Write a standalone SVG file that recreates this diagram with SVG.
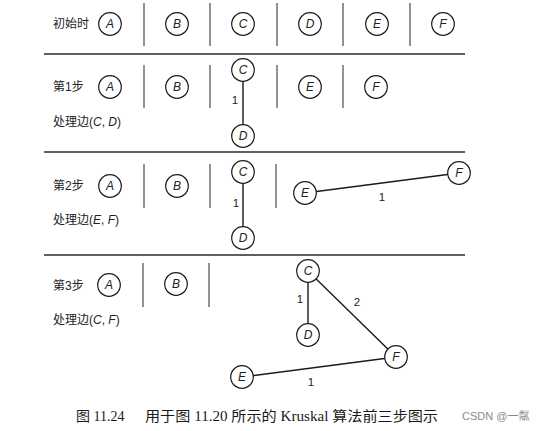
<svg xmlns="http://www.w3.org/2000/svg" width="544" height="431" viewBox="0 0 544 431">
<style>
.bg{fill:#fff}
.sep{stroke:#3a3a3a;stroke-width:1.1}
.hr{stroke:#2a2a2a;stroke-width:1.4}
.edge{stroke:#1a1a1a;stroke-width:1.4;fill:none}
.node circle{fill:#fff;stroke:#1a1a1a;stroke-width:1.2}
.node text{font-family:"Liberation Sans",Arial,sans-serif;font-style:italic;font-size:12px;fill:#222;text-anchor:middle}
.lbl{font-family:"Liberation Sans","Noto Sans CJK SC",sans-serif;font-size:12px;fill:#222}
.w{font-family:"Liberation Sans",Arial,sans-serif;font-size:11.5px;fill:#222;text-anchor:middle}
.cap{font-family:"Liberation Serif","Noto Sans CJK SC",serif;font-size:14px;fill:#1a1a1a}
.mark{font-family:"Liberation Sans","Noto Sans CJK SC",sans-serif;font-size:11px;fill:#8a8a8a}
</style>
<rect class="bg" width="544" height="431"/>
<g id="rules">
<line class="hr" x1="44" y1="54" x2="465" y2="54"/>
<line class="hr" x1="44" y1="152" x2="465" y2="152"/>
<line class="hr" x1="44" y1="255" x2="465" y2="255"/>
<line class="sep" x1="144" y1="3" x2="144" y2="46"/>
<line class="sep" x1="210" y1="3" x2="210" y2="46"/>
<line class="sep" x1="277" y1="3" x2="277" y2="46"/>
<line class="sep" x1="343" y1="3" x2="343" y2="46"/>
<line class="sep" x1="410" y1="3" x2="410" y2="46"/>
<line class="sep" x1="144" y1="65" x2="144" y2="108"/>
<line class="sep" x1="210" y1="65" x2="210" y2="108"/>
<line class="sep" x1="277" y1="65" x2="277" y2="108"/>
<line class="sep" x1="343" y1="65" x2="343" y2="108"/>
<line class="sep" x1="144" y1="164" x2="144" y2="208"/>
<line class="sep" x1="210" y1="164" x2="210" y2="208"/>
<line class="sep" x1="276" y1="164" x2="276" y2="208"/>
<line class="sep" x1="143" y1="263" x2="143" y2="307"/>
<line class="sep" x1="209" y1="263" x2="209" y2="307"/>
</g>
<g id="labels">
<text class="lbl" x="53" y="28">初始时</text>
<text class="lbl" x="53" y="91">第1步</text>
<text class="lbl" x="53" y="126">处理边(<tspan font-style="italic">C</tspan>, <tspan font-style="italic">D</tspan>)</text>
<text class="lbl" x="53" y="190">第2步</text>
<text class="lbl" x="53" y="224">处理边(<tspan font-style="italic">E</tspan>, <tspan font-style="italic">F</tspan>)</text>
<text class="lbl" x="53" y="290">第3步</text>
<text class="lbl" x="53" y="324">处理边(<tspan font-style="italic">C</tspan>, <tspan font-style="italic">F</tspan>)</text>
</g>
<g id="connectors">
<line class="edge" x1="243" y1="70" x2="243" y2="136"/>
<line class="edge" x1="243" y1="172" x2="243" y2="238"/>
<line class="edge" x1="305" y1="193" x2="459" y2="173"/>
<line class="edge" x1="308" y1="271" x2="308" y2="335"/>
<line class="edge" x1="308" y1="271" x2="396" y2="357"/>
<line class="edge" x1="242" y1="377" x2="396" y2="357"/>
<text class="w" x="235" y="104">1</text>
<text class="w" x="236" y="207">1</text>
<text class="w" x="382" y="201">1</text>
<text class="w" x="300" y="303">1</text>
<text class="w" x="357" y="306">2</text>
<text class="w" x="311" y="386">1</text>
</g>
<g id="r0-A" class="node" transform="translate(110,24)"><circle r="11.3"/><text y="4.3">A</text></g>
<g id="r0-B" class="node" transform="translate(177,24)"><circle r="11.3"/><text y="4.3">B</text></g>
<g id="r0-C" class="node" transform="translate(243,24)"><circle r="11.3"/><text y="4.3">C</text></g>
<g id="r0-D" class="node" transform="translate(310,24)"><circle r="11.3"/><text y="4.3">D</text></g>
<g id="r0-E" class="node" transform="translate(377,24)"><circle r="11.3"/><text y="4.3">E</text></g>
<g id="r0-F" class="node" transform="translate(443,24)"><circle r="11.3"/><text y="4.3">F</text></g>
<g id="r1-A" class="node" transform="translate(110,87)"><circle r="11.3"/><text y="4.3">A</text></g>
<g id="r1-B" class="node" transform="translate(177,87)"><circle r="11.3"/><text y="4.3">B</text></g>
<g id="r1-C" class="node" transform="translate(243,70)"><circle r="11.3"/><text y="4.3">C</text></g>
<g id="r1-D" class="node" transform="translate(243,136)"><circle r="11.3"/><text y="4.3">D</text></g>
<g id="r1-E" class="node" transform="translate(310,87)"><circle r="11.3"/><text y="4.3">E</text></g>
<g id="r1-F" class="node" transform="translate(376,87)"><circle r="11.3"/><text y="4.3">F</text></g>
<g id="r2-A" class="node" transform="translate(110,186)"><circle r="11.3"/><text y="4.3">A</text></g>
<g id="r2-B" class="node" transform="translate(177,186)"><circle r="11.3"/><text y="4.3">B</text></g>
<g id="r2-C" class="node" transform="translate(243,172)"><circle r="11.3"/><text y="4.3">C</text></g>
<g id="r2-D" class="node" transform="translate(243,238)"><circle r="11.3"/><text y="4.3">D</text></g>
<g id="r2-E" class="node" transform="translate(305,193)"><circle r="11.3"/><text y="4.3">E</text></g>
<g id="r2-F" class="node" transform="translate(459,173)"><circle r="11.3"/><text y="4.3">F</text></g>
<g id="r3-A" class="node" transform="translate(109,285)"><circle r="11.3"/><text y="4.3">A</text></g>
<g id="r3-B" class="node" transform="translate(176,284)"><circle r="11.3"/><text y="4.3">B</text></g>
<g id="r3-C" class="node" transform="translate(308,271)"><circle r="11.3"/><text y="4.3">C</text></g>
<g id="r3-D" class="node" transform="translate(308,335)"><circle r="11.3"/><text y="4.3">D</text></g>
<g id="r3-F" class="node" transform="translate(396,357)"><circle r="11.3"/><text y="4.3">F</text></g>
<g id="r3-E" class="node" transform="translate(242,377)"><circle r="11.3"/><text y="4.3">E</text></g>
<g id="caption">
<text class="cap" x="76" y="421">图 11.24</text>
<text class="cap" x="145" y="421" textLength="293" lengthAdjust="spacingAndGlyphs">用于图 11.20 所示的 Kruskal 算法前三步图示</text>
<text class="mark" x="462" y="420">CSDN @一粼</text>
</g>
</svg>
